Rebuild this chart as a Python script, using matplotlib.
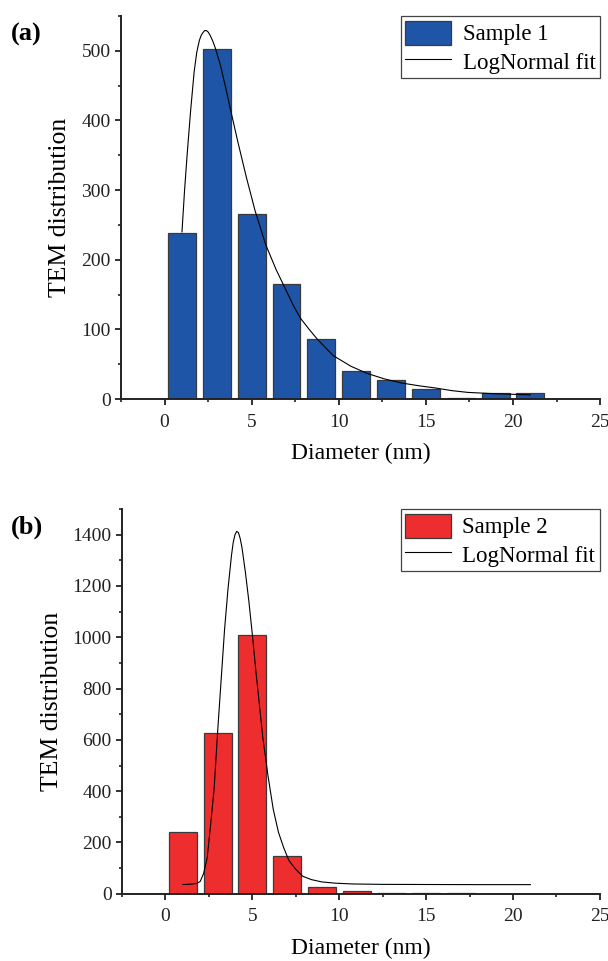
import numpy as np
import matplotlib.pyplot as plt
from matplotlib.ticker import MultipleLocator

plt.rcParams['font.family'] = ['Liberation Serif', 'DejaVu Serif']

# histogram bins (nm) and counts
diameter = [1, 3, 5, 7, 9, 11, 13, 15, 17, 19, 21]
counts_s1 = [238, 503, 266, 165, 86, 40, 28, 15, 1.5, 8.5, 8.5]
counts_s2 = [239, 627, 1009, 149, 26, 9, 2, 1, 1, 0, 0]

# LogNormal fit curves
fit1_x = [1.0, 1.15, 1.3, 1.5, 1.7, 1.85, 2.0, 2.1, 2.2, 2.3, 2.4, 2.5, 2.6, 2.75, 2.9,
          3.2, 3.5, 3.8, 4.2, 4.7, 5.2, 5.8, 6.4, 6.9, 7.4, 7.8, 8.3, 8.8, 9.7, 10.7,
          11.6, 12.6, 13.6, 14.6, 15.5, 16.5, 17.4, 19.0, 21.0]
fit1_y = [240, 300, 352, 415, 470, 498, 515, 522, 526, 529, 529, 527, 523, 515, 505,
          480, 448, 414, 370, 318, 270, 222, 186, 160, 134, 116, 100, 85, 62, 47,
          37, 29, 23, 19, 16, 12, 9.5, 7.5, 6]

fit2_x = [1.0, 1.4, 1.8, 2.0, 2.2, 2.4, 2.6, 2.8, 3.0, 3.2, 3.4, 3.6, 3.8, 3.9, 4.0,
          4.1, 4.2, 4.3, 4.4, 4.6, 4.8, 5.0, 5.2, 5.4, 5.6, 5.9, 6.2, 6.5, 6.8, 7.1,
          7.5, 7.9, 8.4, 9.0, 9.8, 10.8, 12.5, 15.0, 18.0, 21.0]
fit2_y = [36, 37, 40, 48, 80, 140, 270, 410, 630, 830, 1030, 1190, 1320, 1370, 1400,
          1413, 1408, 1385, 1351, 1253, 1140, 1010, 870, 740, 610, 460, 330, 240, 180, 130,
          95, 68, 55, 46, 41, 38, 36.5, 36, 35.5, 35.5]

fig = plt.figure(figsize=(6.08, 9.61), dpi=100)

panels = [
    dict(rect=[0.199, 0.5848, 0.788, 0.3986], counts=counts_s1, fx=fit1_x, fy=fit1_y,
         color='#1f55a6', label='Sample 1', ylim=550, major=100, minor=50, tag='(a)'),
    dict(rect=[0.2007, 0.0700, 0.786, 0.4003], counts=counts_s2, fx=fit2_x, fy=fit2_y,
         color='#ee2e2e', label='Sample 2', ylim=1500, major=200, minor=100, tag='(b)'),
]

for p in panels:
    ax = fig.add_axes(p['rect'])
    bars = ax.bar(diameter, p['counts'], width=1.6, color=p['color'], edgecolor='#3a3a3a',
                  linewidth=0.9, zorder=2)
    line, = ax.plot(p['fx'], p['fy'], color='black', linewidth=0.8, zorder=3)

    ax.set_xlim(-2.5, 25)
    ax.set_ylim(0, p['ylim'])
    ax.xaxis.set_major_locator(MultipleLocator(5))
    ax.xaxis.set_minor_locator(MultipleLocator(2.5))
    ax.yaxis.set_major_locator(MultipleLocator(p['major']))
    ax.yaxis.set_minor_locator(MultipleLocator(p['minor']))

    for s in ['top', 'right']:
        ax.spines[s].set_visible(False)
    for s in ['left', 'bottom']:
        ax.spines[s].set_linewidth(1.4)
        ax.spines[s].set_color('#222222')
    ax.tick_params(which='major', direction='out', length=4.5, width=1.3, labelsize=14,
                   colors='#222222', pad=3)
    ax.tick_params(axis='x', which='major', pad=6)
    ax.tick_params(which='minor', direction='out', length=2.5, width=1.2, colors='#222222')

    ax.set_xlabel('Diameter (nm)', fontsize=17, labelpad=9)
    ax.set_ylabel('TEM distribution', fontsize=18.5, labelpad=7)

    leg = ax.legend([bars, line], [p['label'], 'LogNormal fit'], loc='upper right',
                    bbox_to_anchor=(1.0, 1.0), borderaxespad=0,
                    fontsize=16.5, frameon=True, fancybox=False, framealpha=1,
                    edgecolor='#444444', handlelength=2.0, handleheight=1.25,
                    handletextpad=0.5, borderpad=0.2, labelspacing=0.15)
    leg.get_frame().set_linewidth(0.9)

    fig.text(0.018, p['rect'][1] + p['rect'][3] - 0.007, p['tag'], fontsize=19,
             fontweight='bold', va='top', ha='left')

fig.savefig('out.png', dpi=100)
